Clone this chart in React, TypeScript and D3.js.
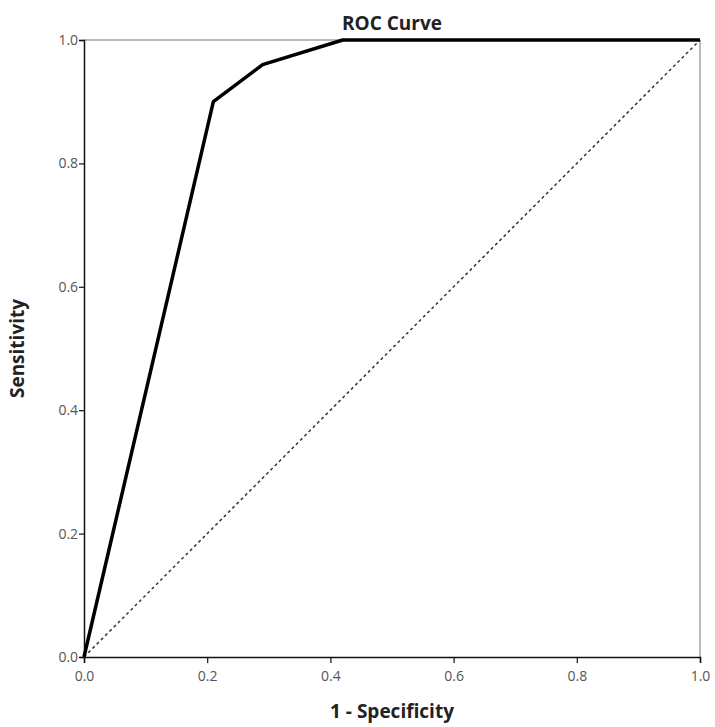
import React, { useEffect, useRef } from 'react';
import * as d3 from 'd3';

// ROC points
const fpr = [0, 0.21, 0.29, 0.42, 1.0];
const tpr = [0, 0.9, 0.96, 1.0, 1.0];
const ticks = [0, 0.2, 0.4, 0.6, 0.8, 1.0];

const App = () => {
  const ref = useRef<SVGSVGElement>(null);

  useEffect(() => {
    document.body.style.margin = '0';
    const svg = d3.select(ref.current);
    svg.selectAll('*').remove();

    const width = 715;
    const height = 727;
    const margin = { top: 40, right: 15, bottom: 70, left: 84 };
    const w = width - margin.left - margin.right;
    const h = height - margin.top - margin.bottom;

    const x = d3.scaleLinear().domain([0, 1]).range([0, w]);
    const y = d3.scaleLinear().domain([0, 1]).range([h, 0]);

    const font = '"Open Sans", "DejaVu Sans", sans-serif';

    const g = svg.append('g').attr('transform', `translate(${margin.left},${margin.top})`);

    // frame top / right
    g.append('line').attr('x1', 0).attr('x2', w).attr('y1', 0).attr('y2', 0)
      .attr('stroke', '#777').attr('stroke-width', 1);
    g.append('line').attr('x1', w).attr('x2', w).attr('y1', 0).attr('y2', h)
      .attr('stroke', '#777').attr('stroke-width', 1);

    const xAxis = g.append('g')
      .attr('transform', `translate(0,${h})`)
      .call(d3.axisBottom(x).tickValues(ticks).tickFormat(d3.format('.1f')).tickSizeOuter(0).tickSize(6));
    const yAxis = g.append('g')
      .call(d3.axisLeft(y).tickValues(ticks).tickFormat(d3.format('.1f')).tickSizeOuter(0).tickSize(5));

    [xAxis, yAxis].forEach(a => {
      a.select('.domain').attr('stroke', '#111').attr('stroke-width', 1.5);
      a.selectAll('.tick line').attr('stroke', '#111').attr('stroke-width', 1.2);
      a.selectAll('.tick text')
        .attr('font-family', font)
        .attr('font-size', 14)
        .attr('fill', '#555');
    });
    xAxis.selectAll('.tick text').attr('dy', '1.05em');
    yAxis.selectAll('.tick text').attr('dx', '0.15em');

    // reference diagonal
    g.append('line')
      .attr('x1', x(0)).attr('y1', y(0)).attr('x2', x(1)).attr('y2', y(1))
      .attr('stroke', '#333').attr('stroke-width', 1.5).attr('stroke-dasharray', '3,3');

    const line = d3.line<number>()
      .x((_, i) => x(fpr[i]))
      .y(d => y(d));

    g.append('path')
      .datum(tpr)
      .attr('fill', 'none')
      .attr('stroke', '#000')
      .attr('stroke-width', 3.5)
      .attr('stroke-linejoin', 'round')
      .attr('d', line);

    svg.append('text')
      .attr('x', margin.left + w / 2)
      .attr('y', 30)
      .attr('text-anchor', 'middle')
      .attr('font-family', font)
      .attr('font-weight', 'bold')
      .attr('font-size', 19)
      .attr('fill', '#222')
      .text('ROC Curve');

    svg.append('text')
      .attr('x', margin.left + w / 2)
      .attr('y', 718)
      .attr('text-anchor', 'middle')
      .attr('font-family', font)
      .attr('font-weight', 'bold')
      .attr('font-size', 19)
      .attr('fill', '#222')
      .text('1 - Specificity');

    svg.append('text')
      .attr('transform', `translate(24,${margin.top + h / 2}) rotate(-90)`)
      .attr('text-anchor', 'middle')
      .attr('font-family', font)
      .attr('font-weight', 'bold')
      .attr('font-size', 19)
      .attr('fill', '#222')
      .text('Sensitivity');
  }, []);

  return <svg ref={ref} width={715} height={727} style={{ display: 'block', background: '#fff' }} />;
};

export default App;
